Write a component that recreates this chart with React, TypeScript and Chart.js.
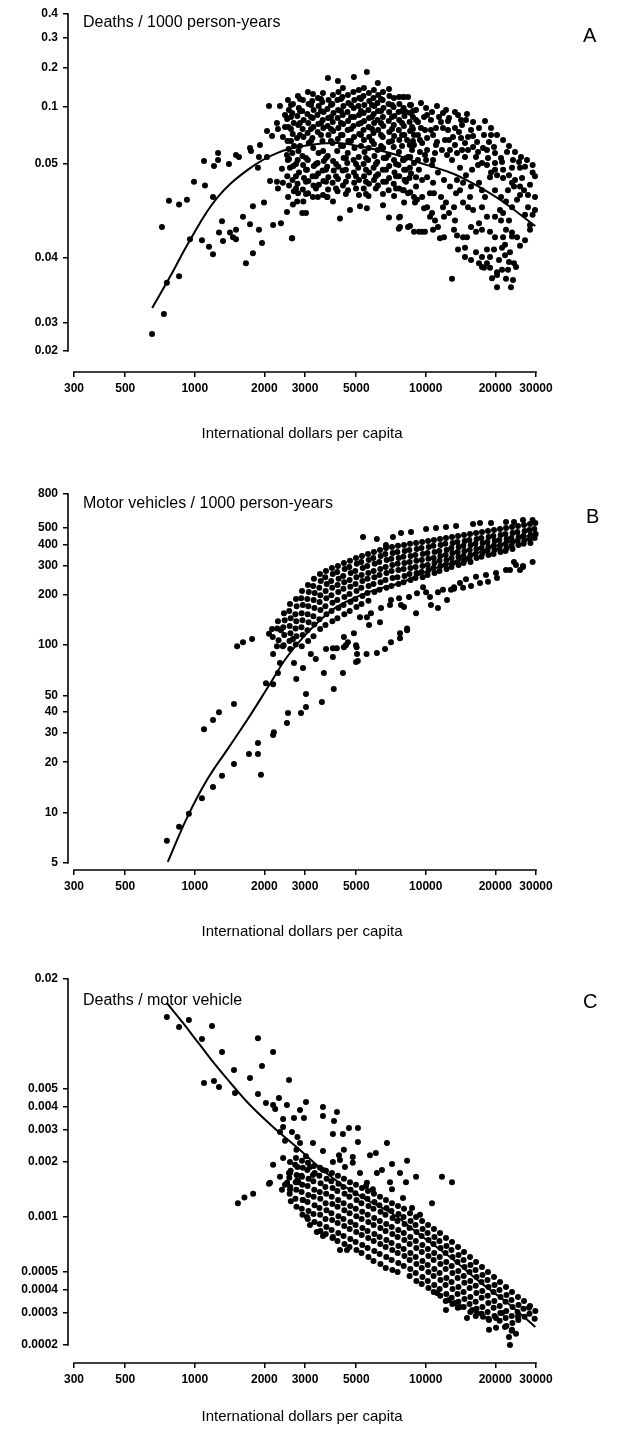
import React, { useEffect, useRef } from 'react';
import { Chart, registerables, Scale } from 'chart.js';

Chart.register(...registerables);

// ---------------- tick values ----------------
const xTickValues = [300, 500, 1000, 2000, 3000, 5000, 10000, 20000, 30000];
const deathsPopTicks = [0.4, 0.3, 0.2, 0.1, 0.05, 0.04, 0.03, 0.02];
const vehiclesTicks = [800, 500, 400, 300, 200, 100, 50, 40, 30, 20, 10, 5];
const deathsVehTicks = [0.02, 0.005, 0.004, 0.003, 0.002, 0.001, 0.0005, 0.0004, 0.0003, 0.0002];

// ---------------- panel A: deaths / 1000 person-years ----------------
const deathsPopLeft = [
  [653,0.0261],[735,0.0314],[757,0.0362],[855,0.0372],[721,0.0433],[773,0.0461],[855,0.0457],[925,0.0462],[992,0.0481],[1107,0.0477],[1199,0.0465],[953,0.042],[1074,0.0419],[1152,0.0412],[1199,0.0404],[1096,0.0526],[1211,0.0498],[1261,0.0596],[1261,0.0535],[1406,0.05],[1508,0.0579],[1553,0.0561],[1312,0.0439],[1273,0.0427],[1325,0.0418],[1420,0.0427],[1463,0.0422],[1508,0.043],[1508,0.042],[1665,0.0392],[1785,0.0405],[1617,0.0444],[1734,0.0436],[1785,0.0455],[1896,0.043],[1954,0.0416],[1994,0.0459],[1734,0.064],[1751,0.0614],[1915,0.0667],[1896,0.0561],[2054,0.0561],[1877,0.0496],[2054,0.0789],[2160,0.0746],[2183,0.0435],[2361,0.0437],[2506,0.0449],[2635,0.0421],[2117,0.0482],[2291,0.0474],[2268,0.0481],[2407,0.048],[2096,0.1026],[2338,0.1026],[2268,0.086],[2291,0.0807],[2458,0.0825],[2407,0.0737],[2458,0.093],[2506,0.0579],[2583,0.0496],[2558,0.0544],[2384,0.0495],
];
const deathsPopCore = [
  [2532,0.1179],[2555,0.0974],[2510,0.0895],[2540,0.0825],[2520,0.0702],[2548,0.0631],[2528,0.0535],[2515,0.0487],[2560,0.0477],[2535,0.0465],
  [2661,0.1077],[2640,0.0947],[2680,0.086],[2655,0.0763],[2690,0.0658],[2645,0.0596],[2670,0.0498],[2650,0.0483],[2685,0.0471],[2660,0.0457],[2640,0.0421],
  [2797,0.1282],[2820,0.0991],[2780,0.0921],[2805,0.0842],[2770,0.0728],[2810,0.0614],[2790,0.0535],[2825,0.0491],[2785,0.0479],[2800,0.0469],[2775,0.046],
  [2940,0.1179],[2915,0.0965],[2960,0.0886],[2930,0.0807],[2955,0.0737],[2925,0.057],[2945,0.0499],[2970,0.0485],[2935,0.0473],[2950,0.046],[2920,0.0448],
  [3090,0.1385],[3110,0.1077],[3070,0.0939],[3100,0.086],[3080,0.0772],[3115,0.0684],[3085,0.0535],[3060,0.0494],[3105,0.0482],[3095,0.0469],
  [3248,0.1333],[3225,0.1154],[3270,0.0974],[3240,0.0904],[3260,0.0825],[3230,0.0728],[3255,0.064],[3275,0.0498],[3235,0.0487],[3265,0.0477],[3245,0.0465],
  [3414,0.1231],[3440,0.1026],[3395,0.093],[3425,0.0851],[3405,0.0781],[3435,0.0596],[3400,0.0509],[3420,0.049],[3445,0.0478],[3410,0.0465],
  [3588,0.1359],[3565,0.1128],[3610,0.0956],[3580,0.0886],[3600,0.0816],[3570,0.0702],[3595,0.0614],[3620,0.0526],[3575,0.0493],[3605,0.0482],[3590,0.0467],
  [3771,0.1744],[3795,0.1179],[3750,0.0982],[3780,0.0904],[3760,0.0833],[3790,0.0754],[3765,0.057],[3740,0.0497],[3785,0.0486],[3775,0.0473],[3755,0.0465],
  [3963,0.1308],[3940,0.1077],[3985,0.0947],[3955,0.0868],[3975,0.0789],[3945,0.0684],[3970,0.0526],[3995,0.0493],[3950,0.048],[3965,0.046],
  [4166,0.1667],[4190,0.1385],[4145,0.1179],[4175,0.0974],[4155,0.0904],[4185,0.0816],[4160,0.0719],[4135,0.0614],[4180,0.0497],[4170,0.0484],[4150,0.0471],
  [4378,0.1487],[4355,0.1256],[4400,0.1026],[4370,0.093],[4390,0.0851],[4360,0.0754],[4385,0.0658],[4410,0.0553],[4365,0.0493],[4380,0.0477],[4251,0.0442],
  [4602,0.1308],[4625,0.1103],[4580,0.0956],[4610,0.0877],[4590,0.0798],[4620,0.0702],[4595,0.0596],[4570,0.0509],[4615,0.0487],[4605,0.0472],[4698,0.0451],
  [4884,0.177],[4860,0.1385],[4905,0.1179],[4875,0.0991],[4895,0.0912],[4865,0.0833],[4890,0.0737],[4915,0.064],[4870,0.0535],[4885,0.0491],[4900,0.048],
  [5130,0.1436],[5155,0.1231],[5110,0.1026],[5140,0.093],[5120,0.0851],[5150,0.0763],[5125,0.0561],[5100,0.0496],[5145,0.0483],[5135,0.0467],[5190,0.0455],
  [5395,0.1487],[5370,0.1282],[5420,0.1051],[5385,0.0947],[5410,0.0877],[5375,0.0798],[5400,0.0711],[5430,0.0605],[5380,0.05],[5405,0.0487],[5390,0.0474],
  [5558,0.1897],[5558,0.0453],
  [5670,0.1359],[5695,0.1154],[5645,0.0974],[5680,0.0904],[5655,0.0825],[5690,0.0737],[5660,0.064],[5635,0.0535],[5685,0.0491],[5675,0.0479],[5650,0.0466],
  [5960,0.1436],[5935,0.1231],[5985,0.1026],[5950,0.0939],[5975,0.086],[5940,0.0772],[5965,0.0675],[5995,0.057],[5945,0.0496],[5970,0.0483],
  [6200,0.1615],[6225,0.1308],[6175,0.1103],[6210,0.0965],[6185,0.0886],[6220,0.0798],[6190,0.0623],[6165,0.0518],[6215,0.0489],[6205,0.0477],[6530,0.0456],
  [6530,0.1385],[6505,0.1179],[6560,0.0991],[6520,0.0912],[6545,0.0833],[6510,0.0737],[6535,0.064],[6570,0.0553],[6515,0.0494],[6540,0.0481],[6525,0.0468],
  [6930,0.1462],[6960,0.1282],[6905,0.1077],[6940,0.0956],[6915,0.0877],[6950,0.0781],[6920,0.0693],[6890,0.0579],[6945,0.0498],[6935,0.0485],[6910,0.0472],[6930,0.0443],
  [7280,0.1231],[7250,0.1],[7310,0.0921],[7270,0.0842],[7295,0.0746],[7260,0.0649],[7285,0.0535],[7320,0.0491],[7265,0.0479],[7290,0.0466],
  [7660,0.1256],[7690,0.1077],[7630,0.0956],[7670,0.0886],[7645,0.0798],[7680,0.0711],[7650,0.0605],[7620,0.0499],[7675,0.0487],[7665,0.0474],[7660,0.0443],[7640,0.0431],
  [8050,0.1256],[8020,0.0991],[8085,0.0921],[8040,0.0833],[8070,0.0754],[8030,0.0535],[8060,0.0494],[8095,0.0483],[8035,0.0472],[8055,0.0459],
  [8544,0.1051],[8575,0.0947],[8510,0.0868],[8555,0.0789],[8525,0.0667],[8565,0.0561],[8535,0.0496],[8500,0.0485],[8560,0.047],[8544,0.0434],
  [3030,0.0448],[3736,0.0465],[8981,0.0459],[9640,0.0428],[9920,0.0428],[10640,0.0448],[11520,0.0421],[11870,0.0454],
];
const deathsPopCoreFill = [
  [2609,0.1051],[2609,0.0912],[2609,0.0807],[2609,0.0702],
  [2854,0.1205],[2854,0.0965],[2854,0.086],[2854,0.0754],[2854,0.0658],
  [3185,0.1051],[3185,0.0912],[3185,0.0807],[3185,0.0702],
  [3518,0.1205],[3518,0.0965],[3518,0.086],[3518,0.0754],
  [3887,0.1051],[3887,0.0912],[3887,0.0807],[3887,0.0702],
  [4294,0.1205],[4294,0.0965],[4294,0.086],[4294,0.0754],[4294,0.0658],
  [4745,0.1051],[4745,0.0912],[4745,0.0807],[4745,0.0702],
  [5242,0.1205],[5242,0.0965],[5242,0.086],[5242,0.0754],[5242,0.0658],
  [5850,0.1051],[5850,0.0912],[5850,0.0807],[5850,0.0702],
  [6400,0.1205],[6400,0.0965],[6400,0.086],[6400,0.0754],[6400,0.0658],
  [7140,0.1051],[7140,0.0912],[7140,0.0807],[7140,0.0702],
  [7890,0.0965],[7890,0.086],[7890,0.0754],[7890,0.0658],
  [8800,0.0965],[8800,0.0912],[8800,0.0807],[8800,0.0702],
  [2742,0.05],[2742,0.0487],[2742,0.0474],
  [3030,0.0553],[3030,0.0494],[3030,0.0481],[3030,0.0468],
  [3346,0.05],[3346,0.0487],[3346,0.0474],
  [3697,0.0553],[3697,0.0494],[3697,0.0481],
  [4088,0.05],[4088,0.0487],[4088,0.0474],
  [4510,0.0553],[4510,0.0494],[4510,0.0481],[4510,0.0468],
  [4988,0.05],[4988,0.0487],[4988,0.0474],
  [5510,0.0553],[5510,0.0494],[5510,0.0481],[5510,0.0468],
  [6080,0.05],[6080,0.0487],[6080,0.0474],
  [6725,0.0553],[6725,0.0494],[6725,0.0481],
  [7430,0.05],[7430,0.0487],[7430,0.0474],
  [8210,0.0553],[8210,0.0494],[8210,0.0481],
];
const deathsPopRight = [
  [7967,0.1256],[8380,0.1256],[8630,0.1051],[9075,0.0974],[9830,0.0912],[10130,0.093],[10530,0.0886],[11410,0.0912],[11640,0.0868],[12480,0.0877],[13790,0.093],[10750,0.0754],[12480,0.0798],[13120,0.0737],[14210,0.0728],[15230,0.0737],[16020,0.0746],[17860,0.0754],[19160,0.0754],[19740,0.0649],[18400,0.0623],[16020,0.0649],[16840,0.0605],[9640,0.0684],[10130,0.0623],[10961,0.0596],[11750,0.0623],[12729,0.0623],[13650,0.0596],[14783,0.0561],[15230,0.0623],[19935,0.0509],[21600,0.0494],[23620,0.0496],[25580,0.0496],[26887,0.0497],[29000,0.0491],[29700,0.0487],[17510,0.0509],[18400,0.0499],[19160,0.0491],[20340,0.0488],[21600,0.0485],[22920,0.0488],[23620,0.048],[24090,0.0476],[25580,0.0476],[26620,0.0472],[25580,0.0467],[24830,0.0462],[27700,0.0454],[29700,0.0451],[26887,0.0446],[23620,0.0454],[22250,0.046],[21170,0.0465],[19935,0.0472],
  [7967,0.0535],[8380,0.0561],[8890,0.0509],[9340,0.0494],[9075,0.0486],[8630,0.049],[8129,0.0483],[7967,0.0472],[8380,0.0469],[9075,0.0476],[9640,0.0483],[10130,0.0486],[10750,0.048],[10428,0.0469],[9640,0.0465],[8890,0.0465],[10850,0.0469],[13650,0.0483],[14500,0.048],[15700,0.0476],[17000,0.048],[17510,0.0472],[18966,0.0486],[19935,0.0494],
  [11640,0.0465],[12230,0.0459],[13250,0.0454],[14500,0.0459],[15230,0.0454],[16020,0.0451],[17510,0.0454],[18400,0.0444],[19935,0.0444],[21170,0.044],[22920,0.044],[21600,0.0448],[10130,0.0454],[10428,0.0444],[10961,0.044],[11990,0.0444],[12600,0.0448],[13250,0.043],[13650,0.0424],[14500,0.0422],[15080,0.0422],[15700,0.0433],[16500,0.0428],[17000,0.0437],[17510,0.043],[18966,0.0428],[19935,0.0422],[21600,0.0422],[22250,0.043],[23620,0.0427],[24830,0.0422],[26887,0.0419],
  [7734,0.0444],[7734,0.0433],[8380,0.0433],[8890,0.0428],[9340,0.0428],[10750,0.043],[11990,0.0422],[11290,0.0433],
  [13790,0.0409],[14783,0.0411],[14783,0.0401],[15700,0.0397],[16500,0.0406],[17000,0.0392],[17510,0.0401],[18400,0.0409],[18966,0.0401],[18400,0.0392],[19740,0.0409],[20750,0.0397],[21380,0.0411],[22026,0.0403],[22920,0.0394],[23150,0.0406],[24090,0.0392],[24580,0.0386],[17510,0.0386],[17860,0.0385],[18966,0.0385],[20340,0.0378],[21380,0.0382],[19350,0.0369],[20340,0.0374],[22250,0.0368],[23850,0.0366],[23380,0.0355],[12990,0.0368],
  [8210,0.0956],[8720,0.0825],[9250,0.0754],[8890,0.0667],[9438,0.0605],[10030,0.0535],[10640,0.0499],[11290,0.0491],[11990,0.0483],[12729,0.0476],[13520,0.0469],[11070,0.0667],[12109,0.0711],[12990,0.0535],[14064,0.0496],[14930,0.0488],[15860,0.0494],[16840,0.0499],[9250,0.0868],[9920,0.0798],[11070,0.0816],[12230,0.0974],[13379,0.0816],[14350,0.0842],[14930,0.0886],[8300,0.0711],[9160,0.0462],[9830,0.0453],[13379,0.044],[14064,0.0472],[15540,0.0465],[18043,0.0465],[20955,0.0451],[22690,0.0472],[24333,0.0483],[28260,0.0478],[26100,0.0485],[27700,0.0467],[29700,0.0465],[28260,0.0435],[25580,0.0413],[23620,0.0423],[22700,0.0382],[20340,0.0355],[22026,0.0414],[28260,0.043],[29000,0.0446],
];
const deathsPopUpperRight = [
  [9530,0.1103],[10030,0.0991],[10640,0.0956],[11180,0.1026],[11870,0.0947],[12600,0.0904],[13379,0.0956],[14210,0.0886],[15080,0.0939],[16020,0.0868],[17000,0.0816],[18043,0.0877],[19160,0.0816],[20340,0.0754],[21600,0.0711],[22920,0.0658],[24333,0.0605],[25830,0.0561],[27430,0.0535],[29000,0.0499],
  [9530,0.0816],[10130,0.0728],[10530,0.0798],[11180,0.0693],[11870,0.0816],[12600,0.0711],[13379,0.0667],[13920,0.0781],[14783,0.0684],[15700,0.0798],[16670,0.0693],[17690,0.064],[18780,0.0693],[19935,0.0596],[21170,0.0553],[22470,0.0605],[23850,0.0535],[25330,0.0518],
  [9920,0.0579],[10750,0.0535],[12360,0.0579],[14350,0.0623],[16500,0.0561],[18590,0.0553],[21380,0.0518],[9075,0.0886],[8890,0.0754],[9438,0.0711],[8720,0.0623],[9250,0.0535],
];
const deathsPopFit = [
  [654,0.0323],[781,0.0371],[953,0.0419],[1249,0.0464],[1700,0.0494],[2268,0.0596],[3153,0.0667],[4120,0.0684],[5350,0.0649],[7000,0.0596],[9160,0.0518],[12729,0.0491],[15540,0.0481],[20955,0.0462],[29800,0.0434],
];

// ---------------- panel B: motor vehicles / 1000 person-years ----------------
const vehiclesSparse = [
  [757,6.79],[855,8.24],[943,9.84],[1074,12.2],[1199,14.2],[1312,16.6],[1478,19.5],[1716,22.4],[1877,22.4],[1934,16.8],[1877,26.0],[2183,29.1],[2200,30.2],[2506,34.3],[2532,39.3],[2883,39.3],[3030,42.7],[3030,51.1],[3550,45.7],[3996,54.8],[2750,62.7],[2940,73.1],[2688,78.2],[3180,88.6],[3340,82.7],[3620,68.2],[4380,68.2],[3960,85],[3700,94.8],[3960,96],[4120,96],[4420,97.3],[4600,104],[5020,97.3],[5080,80.5],[1096,31.5],[1199,35.7],[1273,39.8],[1478,44.5],[1525,98.6],[1617,104],[1771,109],[2096,117],[2361,123],[2183,88.7],[2033,59.3],[2183,58.5],[2291,68.2],[2338,78.2],[2407,98.6],[2268,98.6],[2661,109],
];
const vehiclesTracks = [
  [4990,79.4],[5540,88.7],[6140,89.9],[6660,94.8],[7070,104],[7734,118],[8300,123],[9075,155],[10530,174],[11290,167],[12360,186],[13250,217],[14500,220],[15700,226],[17166,235],[18590,239],[20340,252],[23150,281],[24090,314],[26350,297],[7734,110],[8300,126],
  [4420,112],[4510,100],[4990,100],[5040,88.6],[4884,118],[5190,147],[5680,132],[5560,147],[5790,155],[6336,137],[6400,167],[7000,174],[7070,186],[7660,191],[7810,174],[8050,169],[8460,194],[9160,204],[10030,207],[10428,194],[9730,222],[11290,207],[11870,214],[12860,214],[13250,222],[14064,235],[14930,248],[16500,256],[18220,263],[20140,270],[22250,281],[24580,301],[25580,281],[26350,293],[29000,314],
  [5350,443],[6140,431],[6725,397],[7210,443],[7810,468],[8630,474],[10030,494],[11070,501],[12230,508],[13520,515],[16020,529],[17166,536],[19160,536],[22250,544],[24090,544],[26350,559],[29000,559],
];
const vehiclesBand = [
  [2160,125],[2175,112],
  [2291,139],[2275,126],[2305,107],
  [2432,155],[2450,141],[2415,128],[2440,115],[2425,100],
  [2583,176],[2565,160],[2600,145],[2575,130],[2595,118],[2570,106],[2590,94.8],
  [2742,189],[2760,171],[2725,153],[2750,139],[2730,126],[2755,113],[2735,101],
  [2912,211],[2890,191],[2935,174],[2900,155],[2925,141],[2895,128],[2930,115],[2905,98.6],
  [3090,229],[3115,208],[3070,189],[3100,171],[3080,153],[3110,137],[3075,123],[3095,106],
  [3280,249],[3255,226],[3305,205],[3270,186],[3295,167],[3260,149],[3290,133],[3265,113],
  [3483,266],[3510,242],[3460,220],[3495,199],[3470,181],[3500,162],[3465,143],[3490,125],
  [3697,277],[3670,255],[3725,232],[3685,211],[3710,191],[3675,171],[3715,153],[3680,132],
  [3925,289],[3955,266],[3895,242],[3935,220],[3905,199],[3945,179],[3910,160],[3940,139],
  [4166,297],[4135,274],[4195,249],[4150,229],[4180,208],[4140,186],[4185,167],[4145,145],
  [4422,310],[4455,285],[4390,259],[4435,238],[4400,217],[4445,194],[4405,174],[4440,153],
  [4698,319],[4665,293],[4730,270],[4680,245],[4715,223],[4675,202],[4720,181],[4685,160],
  [4988,332],[5025,306],[4950,277],[5005,255],[4965,232],[5015,211],[4960,189],[5010,169],
  [5294,341],[5255,314],[5335,289],[5275,263],[5315,242],[5260,220],[5320,197],[5270,176],
  [5620,351],[5660,323],[5580,297],[5640,270],[5595,249],[5655,226],[5590,205],[5645,184],
  [5965,360],[5925,332],[6005,306],[5945,277],[5990,255],[5935,232],[5995,208],
  [6336,370],[6380,341],[6290,314],[6355,285],[6305,263],[6370,238],[6310,214],
  [6725,381],[6680,351],[6770,323],[6700,293],[6755,270],[6690,245],[6760,220],
  [7140,386],[7190,355],[7090,328],[7165,301],[7110,277],[7180,252],[7100,226],
  [7580,392],[7530,360],[7630,332],[7555,306],[7610,281],[7540,255],[7620,232],
  [8050,397],[8105,365],[7995,337],[8080,310],[8020,285],[8095,259],[8010,238],
  [8544,403],[8490,370],[8600,341],[8515,314],[8580,289],[8505,266],[8590,245],
  [9075,408],[9135,376],[9015,346],[9105,319],[9035,293],[9120,270],[9025,252],
  [9640,414],[9580,381],[9700,351],[9610,323],[9680,297],[9590,274],[9690,255],
  [10230,419],[10295,386],[10165,355],[10260,328],[10185,301],[10280,281],[10170,263],
  [10850,425],[10780,392],[10920,360],[10815,332],[10900,310],[10790,289],[10910,270],
  [11520,431],[11595,397],[11445,365],[11560,341],[11470,319],[11580,297],[11460,277],
  [12230,437],[12150,403],[12310,370],[12190,346],[12290,323],[12170,301],[12300,285],
  [12990,443],[13075,408],[12905,381],[13040,355],[12930,332],[13060,310],[12920,293],
  [13790,449],[13700,414],[13880,386],[13740,360],[13850,337],[13720,314],[13860,301],
  [14640,455],[14735,419],[14545,392],[14690,365],[14570,341],[14720,323],[14560,310],
  [15540,461],[15440,425],[15640,397],[15490,370],[15610,346],[15460,328],[15620,314],
  [16500,468],[16610,431],[16390,403],[16560,376],[16420,351],[16590,332],
  [17510,474],[17395,437],[17625,408],[17450,381],[17590,355],[17420,337],
  [18590,481],[18710,443],[18470,414],[18650,386],[18500,365],[18690,346],
  [19740,487],[19610,449],[19870,419],[19680,392],[19830,370],[19640,351],
  [20955,494],[21090,455],[20820,425],[21020,397],[20860,376],[21060,360],
  [22250,501],[22110,461],[22390,431],[22180,403],[22350,381],[22140,365],
  [23620,508],[23770,468],[23470,437],[23700,414],[23520,392],[23740,376],
  [25070,515],[24910,474],[25230,443],[24980,419],[25180,397],
  [26620,522],[26790,481],[26450,449],[26700,425],[26520,403],
  [28260,529],[28080,487],[28440,455],[28160,431],[28380,408],
  [29800,536],[29500,494],[29900,461],[29600,437],
];
const vehiclesFit = [
  [764,5.07],[925,9.3],[1130,15.7],[1380,23.7],[1685,35.7],[2075,56.2],[2506,85],[3060,118],[3925,162],[4884,191],[6026,214],[7734,235],[10428,281],[14064,323],[18966,381],[24333,425],[29800,468],
];

// ---------------- panel C: deaths / motor vehicle ----------------
const deathsVehSparse = [
  [757,0.0124],[855,0.01094],[943,0.01194],[1187,0.01107],[1074,0.0094],[1312,0.00798],[1096,0.0054],[1211,0.00554],[1273,0.00514],[1478,0.00636],[1493,0.00477],[1734,0.00575],[1877,0.0095],[2183,0.00798],[1954,0.0067],[2558,0.00561],[1877,0.00471],[2033,0.0042],[2183,0.0041],[2229,0.0039],[2314,0.00447],[2506,0.0041],[3030,0.00425],[2854,0.00385],[2688,0.00348],[2970,0.00348],[3588,0.004],[3588,0.00357],[4125,0.00375],[4006,0.00335],[2412,0.00343],[2338,0.00292],[2412,0.00311],[2635,0.00292],[2783,0.00274],[2458,0.00261],[2854,0.00254],[3248,0.00254],[3030,0.00215],[2755,0.00233],[3963,0.00284],[4378,0.00284],[4650,0.00307],[5085,0.00307],[5085,0.00257],[6790,0.00254],[3588,0.0023],[4210,0.00218],[4420,0.00233],[4830,0.00213],[5733,0.00218],[6080,0.00224],[2183,0.00193],[2412,0.0021],[2583,0.00174],[2783,0.00188],[2809,0.00155],[3153,0.00188],[3248,0.0017],[3588,0.00181],[3963,0.002],[4251,0.00205],[4468,0.00188],[4830,0.00198],[5190,0.00174],[5560,0.00154],[6140,0.00174],[6460,0.00181],[7000,0.00155],[2117,0.00154],[2338,0.00166],[2510,0.00154],[2783,0.00159],[1537,0.00119],[1640,0.00128],[1789,0.00134],[2096,0.00152],[2458,0.0015],[2558,0.00174],[2384,0.00141],[2583,0.00141],[2911,0.00166],[2940,0.00124],[3060,0.001],[3153,0.000905],[3375,0.000828],[3588,0.000788],[3963,0.000778],[4251,0.000661],[4560,0.000661],
  [8300,0.00203],[11750,0.00166],[12990,0.00155],[7140,0.00195],[7734,0.00174],[8210,0.00155],[9075,0.00166],[7140,0.00142],[5900,0.00142],[5510,0.00148],[7967,0.00127],[8720,0.00112],[9438,0.00103],[10640,0.00119],
  [11180,0.000385],[12600,0.000352],[13379,0.000339],[14064,0.000323],[12230,0.000311],[15860,0.000311],[15080,0.000281],[16670,0.000299],[17690,0.000285],[18780,0.000274],[20140,0.000281],[21380,0.000299],[25070,0.000285],[27980,0.000319],[18780,0.000242],[20140,0.000248],[22026,0.000251],[23620,0.000242],[22920,0.000221],[23150,0.0002],[24580,0.00023],
];
const deathsVehBand = [
  [2583,2.00e-3],[2600,1.79e-3],[2565,1.64e-3],[2590,1.46e-3],[2575,1.34e-3],[2605,1.22e-3],
  [2742,2.10e-3],[2720,1.93e-3],[2760,1.70e-3],[2735,1.55e-3],[2750,1.41e-3],[2725,1.26e-3],[2755,1.14e-3],
  [2912,2.03e-3],[2935,1.86e-3],[2895,1.68e-3],[2920,1.50e-3],[2900,1.37e-3],[2930,1.24e-3],[2905,1.11e-3],[2925,1.03e-3],
  [3090,1.98e-3],[3070,1.81e-3],[3110,1.62e-3],[3080,1.48e-3],[3100,1.32e-3],[3075,1.21e-3],[3105,1.08e-3],[3085,9.76e-4],
  [3280,1.90e-3],[3305,1.74e-3],[3260,1.57e-3],[3290,1.41e-3],[3270,1.29e-3],[3300,1.16e-3],[3265,1.04e-3],[3295,9.40e-4],
  [3483,1.86e-3],[3460,1.68e-3],[3505,1.53e-3],[3475,1.37e-3],[3495,1.26e-3],[3465,1.12e-3],[3490,1.03e-3],[3470,9.17e-4],[3500,8.39e-4],
  [3697,1.79e-3],[3720,1.62e-3],[3675,1.46e-3],[3705,1.34e-3],[3685,1.19e-3],[3715,1.09e-3],[3680,9.76e-4],[3710,8.83e-4],[3690,8.08e-4],
  [3925,1.74e-3],[3900,1.57e-3],[3950,1.44e-3],[3915,1.29e-3],[3940,1.18e-3],[3905,1.05e-3],[3935,9.64e-4],[3910,8.50e-4],[3945,7.68e-4],
  [4166,1.68e-3],[4190,1.52e-3],[4140,1.39e-3],[4175,1.24e-3],[4150,1.14e-3],[4185,1.01e-3],[4155,9.28e-4],[4180,8.18e-4],[4145,7.40e-4],
  [4422,1.62e-3],[4395,1.46e-3],[4450,1.34e-3],[4410,1.19e-3],[4440,1.09e-3],[4400,9.76e-4],[4435,8.94e-4],[4405,7.88e-4],[4445,7.12e-4],
  [4698,1.55e-3],[4725,1.41e-3],[4670,1.29e-3],[4710,1.15e-3],[4680,1.05e-3],[4720,9.40e-4],[4685,8.61e-4],[4715,7.59e-4],[4675,6.86e-4],
  [4988,1.50e-3],[4960,1.35e-3],[5015,1.24e-3],[4975,1.11e-3],[5005,1.01e-3],[4965,9.05e-4],[5000,8.29e-4],[4970,7.31e-4],[5010,6.61e-4],
  [5294,1.44e-3],[5325,1.30e-3],[5265,1.19e-3],[5305,1.07e-3],[5275,9.76e-4],[5315,8.72e-4],[5280,7.98e-4],[5310,7.04e-4],[5270,6.37e-4],
  [5620,1.39e-3],[5590,1.26e-3],[5650,1.15e-3],[5605,1.03e-3],[5640,9.40e-4],[5595,8.39e-4],[5635,7.68e-4],[5600,6.78e-4],[5645,6.05e-4],
  [5965,1.34e-3],[5995,1.21e-3],[5935,1.11e-3],[5980,9.88e-4],[5945,9.05e-4],[5990,8.08e-4],[5950,7.40e-4],[5985,6.53e-4],[5940,5.76e-4],
  [6336,1.29e-3],[6300,1.16e-3],[6370,1.07e-3],[6320,9.52e-4],[6360,8.72e-4],[6310,7.78e-4],[6355,7.12e-4],[6315,6.29e-4],[6365,5.54e-4],
  [6725,1.24e-3],[6760,1.12e-3],[6690,1.03e-3],[6740,9.17e-4],[6700,8.39e-4],[6750,7.49e-4],[6705,6.86e-4],[6745,6.05e-4],[6710,5.27e-4],
  [7140,1.19e-3],[7100,1.08e-3],[7180,9.88e-4],[7120,8.83e-4],[7165,8.08e-4],[7110,7.21e-4],[7160,6.61e-4],[7115,5.83e-4],[7170,5.14e-4],
  [7580,1.15e-3],[7620,1.04e-3],[7540,9.52e-4],[7600,8.50e-4],[7555,7.78e-4],[7610,6.95e-4],[7560,6.37e-4],[7605,5.61e-4],[7550,5.01e-4],
  [8050,1.11e-3],[8010,1.00e-3],[8090,9.17e-4],[8030,8.18e-4],[8075,7.49e-4],[8020,6.69e-4],[8080,6.13e-4],[8025,5.41e-4],
  [8544,1.05e-3],[8590,9.52e-4],[8500,8.72e-4],[8565,7.78e-4],[8515,7.12e-4],[8575,6.37e-4],[8520,5.83e-4],[8570,5.21e-4],[8510,4.77e-4],
  [9075,1.00e-3],[9030,9.05e-4],[9120,8.29e-4],[9050,7.40e-4],[9100,6.78e-4],[9040,6.05e-4],[9110,5.54e-4],[9045,4.95e-4],[9105,4.48e-4],
  [9640,9.52e-4],[9690,8.61e-4],[9590,7.88e-4],[9665,7.04e-4],[9610,6.45e-4],[9675,5.76e-4],[9605,5.27e-4],[9670,4.71e-4],[9600,4.31e-4],
  [10230,9.05e-4],[10180,8.18e-4],[10280,7.49e-4],[10210,6.69e-4],[10265,6.13e-4],[10195,5.47e-4],[10260,5.01e-4],[10200,4.48e-4],[10270,4.10e-4],
  [10850,8.61e-4],[10900,7.78e-4],[10800,7.12e-4],[10875,6.37e-4],[10815,5.83e-4],[10885,5.21e-4],[10810,4.77e-4],[10880,4.26e-4],[10820,3.90e-4],
  [11520,8.18e-4],[11460,7.40e-4],[11580,6.78e-4],[11490,6.05e-4],[11560,5.54e-4],[11470,4.95e-4],[11570,4.53e-4],[11480,4.05e-4],[11550,3.71e-4],
  [12230,7.68e-4],[12290,6.95e-4],[12170,6.37e-4],[12260,5.68e-4],[12190,5.21e-4],[12280,4.65e-4],[12180,4.26e-4],[12270,3.80e-4],[12200,3.48e-4],
  [12990,7.31e-4],[12920,6.61e-4],[13060,6.05e-4],[12950,5.41e-4],[13040,4.95e-4],[12930,4.42e-4],[13050,4.05e-4],[12940,3.62e-4],[13030,3.35e-4],
  [13790,6.86e-4],[13860,6.20e-4],[13720,5.68e-4],[13830,5.08e-4],[13740,4.65e-4],[13850,4.15e-4],[13730,3.80e-4],[13840,3.44e-4],[13750,3.19e-4],
  [14640,6.45e-4],[14570,5.83e-4],[14710,5.34e-4],[14600,4.77e-4],[14690,4.37e-4],[14580,3.90e-4],[14700,3.57e-4],[14590,3.23e-4],
  [15540,6.05e-4],[15620,5.47e-4],[15460,5.01e-4],[15580,4.48e-4],[15480,4.10e-4],[15600,3.66e-4],[15470,3.35e-4],[15590,3.03e-4],
  [16500,5.68e-4],[16420,5.14e-4],[16580,4.71e-4],[16450,4.21e-4],[16560,3.85e-4],[16440,3.44e-4],[16570,3.15e-4],[16460,2.88e-4],
  [17510,5.34e-4],[17600,4.83e-4],[17420,4.42e-4],[17560,3.95e-4],[17450,3.62e-4],[17580,3.23e-4],[17440,2.96e-4],
  [18590,5.01e-4],[18500,4.53e-4],[18680,4.15e-4],[18540,3.71e-4],[18650,3.39e-4],[18520,3.03e-4],[18660,2.78e-4],
  [19740,4.71e-4],[19840,4.26e-4],[19640,3.90e-4],[19800,3.48e-4],[19670,3.19e-4],[19820,2.88e-4],
  [20955,4.42e-4],[20850,4.00e-4],[21060,3.66e-4],[20900,3.27e-4],[21020,2.99e-4],[20880,2.71e-4],
  [22250,4.15e-4],[22360,3.75e-4],[22140,3.44e-4],[22310,3.07e-4],[22170,2.81e-4],[22330,2.54e-4],
  [23620,3.90e-4],[23500,3.52e-4],[23740,3.23e-4],[23560,2.88e-4],[23700,2.64e-4],[23540,2.39e-4],
  [25070,3.66e-4],[25200,3.31e-4],[24950,3.03e-4],[25150,2.74e-4],
  [26620,3.48e-4],[26480,3.15e-4],[26750,2.85e-4],
  [28260,3.27e-4],[28120,2.96e-4],
  [29800,3.07e-4],[29600,2.78e-4],
];
const deathsVehFit = [
  [757,0.01479],[889,0.0115],[1053,0.00872],[1249,0.00661],[1478,0.00514],[1734,0.0041],[2183,0.00311],[2783,0.00239],[3483,0.00186],[4251,0.00153],[5560,0.00124],[7280,0.00103],[9438,0.000798],[12729,0.000605],[17166,0.000441],[23150,0.000331],[29800,0.000251],
];

// ---------------- broken (non-uniform) axis of panel A ----------------
// distance of each labelled tick from the top of the axis, and the axis length, in the same units
const brokenTickOffsets = [0, 24, 54, 93, 150, 244, 309, 337];
const brokenAxisLength = 358;

class BrokenScale extends Scale {
  static id = 'broken';
  static defaults = {};
  determineDataLimits() {
    this.min = deathsPopTicks[deathsPopTicks.length - 1];
    this.max = deathsPopTicks[0];
  }
  buildTicks() {
    return deathsPopTicks.map((v) => ({ value: v }));
  }
  getLabelForValue(v: number) {
    return String(v);
  }
  unitOf(v: number) {
    const vals = deathsPopTicks;
    const offs = brokenTickOffsets;
    let i = 0;
    for (i = 0; i < vals.length - 2; i++) {
      if (v >= vals[i + 1]) break;
    }
    const v0 = vals[i], v1 = vals[i + 1];
    return offs[i] + ((v0 - v) / (v0 - v1)) * (offs[i + 1] - offs[i]);
  }
  getPixelForValue(v: number) {
    return this.top + (this.unitOf(v) / brokenAxisLength) * (this.bottom - this.top);
  }
  getValueForPixel(p: number) {
    const u = ((p - this.top) / (this.bottom - this.top)) * brokenAxisLength;
    const vals = deathsPopTicks;
    const offs = brokenTickOffsets;
    let i = 0;
    for (i = 0; i < offs.length - 2; i++) {
      if (u <= offs[i + 1]) break;
    }
    return vals[i] + ((u - offs[i]) / (offs[i + 1] - offs[i])) * (vals[i + 1] - vals[i]);
  }
  getPixelForTick(i: number) {
    return this.getPixelForValue(this.ticks[i].value);
  }
}
Chart.register(BrokenScale as any);

const FONT = "'Liberation Sans', Arial, Helvetica, sans-serif";

const spinePlugin = {
  id: 'spines',
  afterDraw(chart: any, _args: any, opts: any) {
    const { ctx, chartArea } = chart;
    const xs = chart.scales.x;
    const ys = chart.scales.y;
    ctx.save();
    ctx.strokeStyle = '#000';
    ctx.lineWidth = 1.6;
    ctx.beginPath();
    ctx.moveTo(chartArea.left, ys.getPixelForValue(opts.yTop) - 0.8);
    ctx.lineTo(chartArea.left, ys.getPixelForValue(opts.yBottom) + 0.8);
    ctx.moveTo(xs.getPixelForValue(xTickValues[0]) - 0.8, chartArea.bottom);
    ctx.lineTo(xs.getPixelForValue(xTickValues[xTickValues.length - 1]) + 0.8, chartArea.bottom);
    ctx.stroke();
    ctx.restore();
  },
};

const toXY = (arr: number[][]) => arr.map(([x, y]) => ({ x, y }));

type PanelCfg = {
  letter: string;
  header: string;
  top: number;
  height: number;
  padTop: number;
  xAxisHeight: number;
  yScale: any;
  yTicks: number[];
  points: number[][];
  fit: number[][];
  headerTop: number;
  letterTop: number;
  letterLeft: number;
};

const tickFont = { family: FONT, size: 12, weight: 'bold' as const };
const tickGrid = {
  display: true,
  drawOnChartArea: false,
  drawTicks: true,
  tickLength: 5,
  color: '#000',
  lineWidth: 1.5,
};

function buildConfig(p: PanelCfg): any {
  const yTicks = p.yTicks;
  return {
    type: 'scatter',
    data: {
      datasets: [
        {
          data: toXY(p.points),
          pointRadius: 3,
          pointHoverRadius: 3,
          pointBackgroundColor: '#000',
          pointBorderWidth: 0,
          showLine: false,
          clip: false,
        },
        {
          data: toXY(p.fit),
          showLine: true,
          pointRadius: 0,
          pointHoverRadius: 0,
          borderColor: '#000',
          borderWidth: 2,
          tension: 0.4,
          fill: false,
          clip: false,
        },
      ],
    },
    options: {
      animation: false,
      responsive: false,
      maintainAspectRatio: false,
      devicePixelRatio: 1,
      events: [],
      layout: { padding: { top: p.padTop, left: 0, right: 637 - 536, bottom: 0 } },
      plugins: {
        legend: { display: false },
        tooltip: { enabled: false },
        spines: { yTop: yTicks[0], yBottom: yTicks[yTicks.length - 1] },
      },
      scales: {
        x: {
          type: 'logarithmic',
          min: 282.6,
          max: 30000,
          position: 'bottom',
          border: { display: false },
          grid: tickGrid,
          ticks: {
            autoSkip: false,
            maxRotation: 0,
            minRotation: 0,
            padding: 4,
            color: '#000',
            font: tickFont,
            callback: (v: any) => String(v),
          },
          afterBuildTicks: (s: any) => {
            s.ticks = xTickValues.map((v) => ({ value: v }));
          },
          afterFit: (s: any) => {
            s.height = p.xAxisHeight;
          },
          title: {
            display: true,
            text: 'International dollars per capita',
            color: '#000',
            font: { family: FONT, size: 15, lineHeight: 1.2 },
            padding: { top: 0, bottom: 1 },
          },
        },
        y: {
          ...p.yScale,
          position: 'left',
          border: { display: false },
          grid: tickGrid,
          ticks: {
            autoSkip: false,
            padding: 5,
            color: '#000',
            font: tickFont,
            callback: (v: any) => String(v),
          },
          afterBuildTicks: (s: any) => {
            s.ticks = yTicks.map((v) => ({ value: v }));
          },
          afterFit: (s: any) => {
            s.width = 68;
          },
        },
      },
    },
    plugins: [spinePlugin],
  };
}

const panels: PanelCfg[] = [
  {
    letter: 'A',
    header: 'Deaths / 1000 person-years',
    top: 0,
    height: 444,
    padTop: 14,
    xAxisHeight: 72,
    yScale: { type: 'broken' },
    yTicks: deathsPopTicks,
    points: [...deathsPopLeft, ...deathsPopCore, ...deathsPopCoreFill, ...deathsPopRight, ...deathsPopUpperRight],
    fit: deathsPopFit,
    headerTop: 14,
    letterTop: 25,
    letterLeft: 583,
  },
  {
    letter: 'B',
    header: 'Motor vehicles / 1000 person-years',
    top: 444,
    height: 498,
    padTop: 50,
    xAxisHeight: 72,
    yScale: { type: 'logarithmic', min: 4.54, max: 800 },
    yTicks: vehiclesTicks,
    points: [...vehiclesSparse, ...vehiclesTracks, ...vehiclesBand],
    fit: vehiclesFit,
    headerTop: 495,
    letterTop: 506,
    letterLeft: 586,
  },
  {
    letter: 'C',
    header: 'Deaths / motor vehicle',
    top: 942,
    height: 485,
    padTop: 37,
    xAxisHeight: 64,
    yScale: { type: 'logarithmic', min: 0.0001594, max: 0.02 },
    yTicks: deathsVehTicks,
    points: [...deathsVehSparse, ...deathsVehBand],
    fit: deathsVehFit,
    headerTop: 992,
    letterTop: 991,
    letterLeft: 583,
  },
];

function Panel({ cfg }: { cfg: PanelCfg }) {
  const ref = useRef<HTMLCanvasElement | null>(null);
  useEffect(() => {
    if (!ref.current) return;
    const chart = new Chart(ref.current, buildConfig(cfg));
    return () => chart.destroy();
  }, [cfg]);
  return (
    <>
      <canvas
        ref={ref}
        width={637}
        height={cfg.height}
        style={{ position: 'absolute', left: 0, top: cfg.top, width: 637, height: cfg.height, display: 'block' }}
      />
      <div
        style={{
          position: 'absolute',
          left: 83,
          top: cfg.headerTop,
          fontFamily: FONT,
          fontSize: 16,
          lineHeight: '16px',
          color: '#000',
          whiteSpace: 'nowrap',
        }}
      >
        {cfg.header}
      </div>
      <div
        style={{
          position: 'absolute',
          left: cfg.letterLeft,
          top: cfg.letterTop,
          fontFamily: FONT,
          fontSize: 20,
          lineHeight: '20px',
          color: '#000',
        }}
      >
        {cfg.letter}
      </div>
    </>
  );
}

export default function App() {
  return (
    <div style={{ position: 'absolute', left: 0, top: 0, width: 637, height: 1429, background: '#fff', overflow: 'hidden' }}>
      {panels.map((p) => (
        <Panel key={p.letter} cfg={p} />
      ))}
    </div>
  );
}
